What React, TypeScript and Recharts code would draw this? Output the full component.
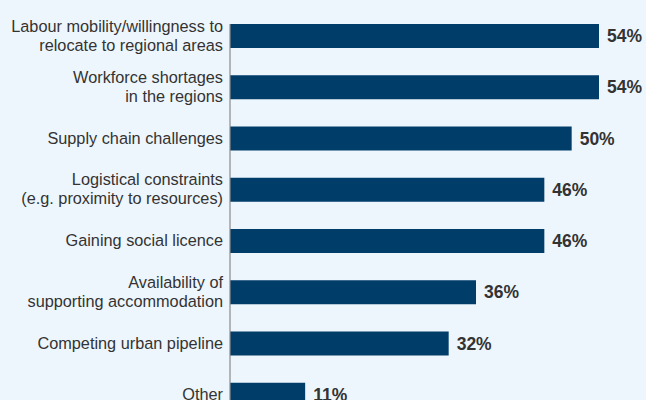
// Horizontal bar chart: barriers to regional projects (share of respondents).

import { BarChart, Bar, XAxis, YAxis, LabelList } from 'recharts';

const categories = [
  'Labour mobility/willingness to\nrelocate to regional areas',
  'Workforce shortages\nin the regions',
  'Supply chain challenges',
  'Logistical constraints\n(e.g. proximity to resources)',
  'Gaining social licence',
  'Availability of\nsupporting accommodation',
  'Competing urban pipeline',
  'Other',
];

const values = [54, 54, 50, 46, 46, 36, 32, 11];

const xTicks = [0, 60];

const data = categories.map((name, i) => ({ name, value: values[i] }));

const FONT = '"Liberation Sans", Arial, Helvetica, sans-serif';
const BAR = '#013d69';
const BG = '#eef6fd';

const CHART_H = 430;
const MARGIN = { top: 10, right: 6, bottom: 10, left: 0 };
const BAND = (CHART_H - MARGIN.top - MARGIN.bottom) / categories.length;

function CategoryTick(props: any) {
  const { x, y, payload } = props;
  const lines = String(payload.value).split('\n');
  const lh = 19;
  const start = -((lines.length - 1) * lh) / 2;
  return (
    <text x={x} y={y} textAnchor="end" fill="#333" fontSize={16.3} fontFamily={FONT}>
      {lines.map((l, i) => (
        <tspan key={i} x={x} dy={i === 0 ? start + 5.5 : lh}>
          {l}
        </tspan>
      ))}
    </text>
  );
}

// bar plus the piece of the axis line that runs down to the next bar
function BarWithAxis(props: any) {
  const { x, y, width, height } = props;
  return (
    <g>
      <rect x={x} y={y} width={width} height={height} fill={BAR} />
      <line x1={x} x2={x} y1={y} y2={y + BAND} stroke="#8c8c8c" strokeWidth={1.2} />
    </g>
  );
}

export default function App() {
  return (
    <div
      style={{
        position: 'fixed',
        top: 0,
        left: 0,
        width: 646,
        height: 400,
        overflow: 'hidden',
        background: BG,
      }}
    >
      <BarChart width={646} height={CHART_H} data={data} layout="vertical" margin={MARGIN}>
        <XAxis type="number" domain={[xTicks[0], xTicks[1]]} hide />
        <YAxis
          type="category"
          dataKey="name"
          width={230}
          axisLine={false}
          tickLine={false}
          tickSize={0}
          tickMargin={7}
          interval={0}
          tick={<CategoryTick />}
        />
        <Bar dataKey="value" barSize={24} isAnimationActive={false} shape={<BarWithAxis />}>
          <LabelList
            dataKey="value"
            position="right"
            offset={8}
            formatter={(v: any) => `${v}%`}
            fill="#333"
            fontSize={17.5}
            fontWeight="bold"
            fontFamily={FONT}
          />
        </Bar>
      </BarChart>
    </div>
  );
}
